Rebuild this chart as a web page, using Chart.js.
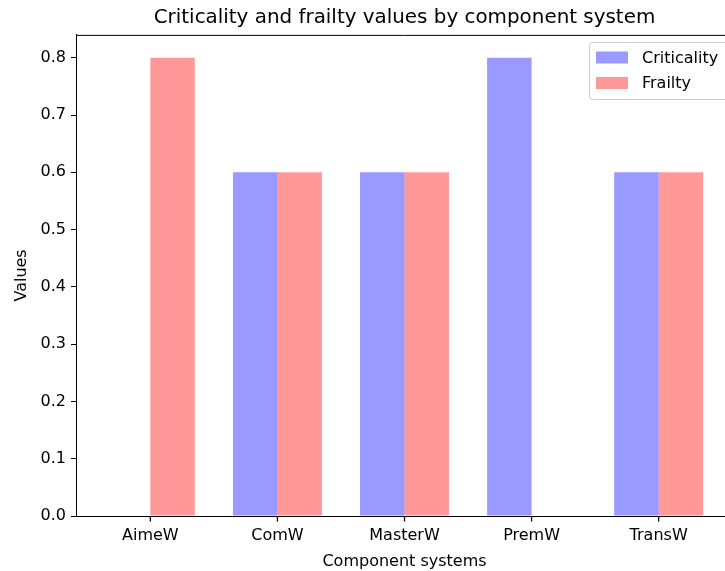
<!DOCTYPE html>
<html>
<head>
<meta charset="utf-8">
<script src="https://cdn.jsdelivr.net/npm/chart.js@4"></script>
<style>
  html, body { margin: 0; padding: 0; background: #fff; overflow: hidden; }
  #wrap { width: 736px; height: 571px; }
</style>
</head>
<body>
<div id="wrap"><canvas id="barChart" width="736" height="571"></canvas></div>
<script>
const categories = ["AimeW", "ComW", "MasterW", "PremW", "TransW"];
const criticality = [0, 0.6, 0.6, 0.8, 0.6];
const frailty = [0.8, 0.6, 0.6, 0, 0.6];
const yTicks = [0, 0.1, 0.2, 0.3, 0.4, 0.5, 0.6, 0.7, 0.8];

Chart.defaults.font.family = "DejaVu Sans";
Chart.defaults.font.size = 16;
Chart.defaults.color = "#000";

// top/right spines and x tick marks, matplotlib style
const frame = {
  id: "frame",
  afterDraw(chart) {
    const { ctx, chartArea: a } = chart;
    const xs = chart.scales.x;
    ctx.save();
    ctx.strokeStyle = "#000";
    ctx.lineWidth = 1;
    ctx.beginPath();
    ctx.moveTo(a.left, a.top + 0.5);
    ctx.lineTo(a.right, a.top + 0.5);
    ctx.moveTo(a.right - 0.5, a.top);
    ctx.lineTo(a.right - 0.5, a.bottom);
    ctx.stroke();
    ctx.lineWidth = 1.3;
    ctx.beginPath();
    for (let i = 0; i < categories.length; i++) {
      const px = xs.getPixelForValue(i);
      ctx.moveTo(px, a.bottom);
      ctx.lineTo(px, a.bottom + 5.5);
    }
    ctx.stroke();
    ctx.restore();
  }
};

// legend box in the upper right of the axes
const boxLegend = {
  id: "boxLegend",
  afterDraw(chart) {
    const { ctx } = chart;
    const x = 589, y = 42, w = 150, h = 57, r = 3;
    ctx.save();
    ctx.fillStyle = "rgba(255,255,255,0.8)";
    ctx.strokeStyle = "#cccccc";
    ctx.lineWidth = 1;
    ctx.beginPath();
    ctx.roundRect(x + 0.5, y + 0.5, w, h, r);
    ctx.fill();
    ctx.stroke();
    ctx.font = "16px 'DejaVu Sans'";
    ctx.textBaseline = "middle";
    chart.data.datasets.forEach((ds, i) => {
      const cy = y + 15.5 + i * 25.5;
      ctx.fillStyle = ds.backgroundColor;
      ctx.fillRect(x + 7, cy - 6, 32, 12);
      ctx.fillStyle = "#000";
      ctx.fillText(ds.label, x + 53, cy + 1);
    });
    ctx.restore();
  }
};

new Chart(document.getElementById("barChart").getContext("2d"), {
  type: "bar",
  data: {
    datasets: [
      {
        label: "Criticality",
        data: criticality.map((v, i) => ({ x: i, y: v })),
        backgroundColor: "rgba(0,0,255,0.4)",
      },
      {
        label: "Frailty",
        data: frailty.map((v, i) => ({ x: i, y: v })),
        backgroundColor: "rgba(255,0,0,0.4)",
      },
    ],
  },
  options: {
    responsive: false,
    animation: false,
    layout: { padding: { left: 0, right: 3, top: 0, bottom: 0 } },
    datasets: { bar: { categoryPercentage: 0.7, barPercentage: 1.0 } },
    plugins: {
      legend: { display: false },
      tooltip: { enabled: false },
      title: {
        display: true,
        fullSize: false,
        text: "Criticality and frailty values by component system",
        font: { size: 19.9, weight: "normal" },
        color: "#000",
        padding: { top: 6, bottom: 5 },
      },
    },
    scales: {
      x: {
        type: "linear",
        min: -0.585,
        max: 4.585,
        offset: false,
        afterFit: (s) => { s.height = 55; },
        afterBuildTicks: (s) => { s.ticks = categories.map((_, i) => ({ value: i })); },
        ticks: {
          autoSkip: false,
          maxRotation: 0,
          padding: 2,
          callback: (v) => categories[v],
        },
        grid: { display: false },
        border: { display: true, color: "#000", width: 1 },
        title: { display: true, text: "Component systems", padding: { top: 4.4, bottom: 0 } },
      },
      y: {
        min: 0,
        max: 0.84,
        afterFit: (s) => { s.width = 76; },
        afterBuildTicks: (s) => { s.ticks = yTicks.map((v) => ({ value: v })); },
        ticks: { padding: 5, callback: (v) => v.toFixed(1) },
        grid: { drawOnChartArea: false, drawTicks: true, tickLength: 5, color: "#000" },
        border: { display: true, color: "#000", width: 1 },
        title: { display: true, text: "Values", padding: { top: 12, bottom: 0 } },
      },
    },
  },
  plugins: [frame, boxLegend],
});
</script>
</body>
</html>
